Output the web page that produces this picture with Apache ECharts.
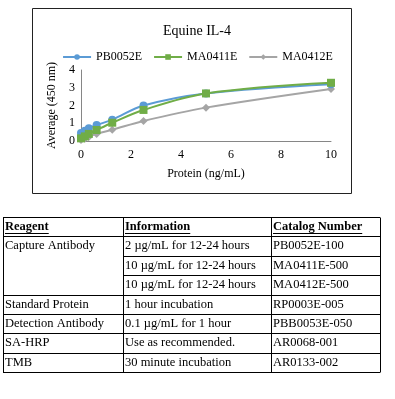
<!DOCTYPE html>
<html><head><meta charset="utf-8">
<script src="https://cdn.jsdelivr.net/npm/echarts@6/dist/echarts.min.js"></script>
<style>html,body{margin:0;padding:0;background:#fff}#c{width:395px;height:399px}</style>
</head><body><div id="c"></div>
<script>
var proteinX = [0, 0.156, 0.3125, 0.625, 1.25, 2.5, 5, 10];
var seriesNames = ['PB0052E', 'MA0411E', 'MA0412E'];
var pb0052e = [0.45, 0.58, 0.72, 0.9, 1.2, 2.0, 2.68, 3.2];
var ma0411e = [0.15, 0.26, 0.4, 0.62, 1.03, 1.75, 2.68, 3.28];
var ma0412e = [0.05, 0.12, 0.23, 0.4, 0.63, 1.13, 1.88, 2.93];
var tableHeader = ['Reagent', 'Information', 'Catalog Number'];
var tableRows = [
  ['Capture Antibody', '2 µg/mL for 12-24 hours', 'PB0052E-100'],
  ['', '10 µg/mL for 12-24 hours', 'MA0411E-500'],
  ['', '10 µg/mL for 12-24 hours', 'MA0412E-500'],
  ['Standard Protein', '1 hour incubation', 'RP0003E-005'],
  ['Detection Antibody', '0.1 µg/mL for 1 hour', 'PBB0053E-050'],
  ['SA-HRP', 'Use as recommended.', 'AR0068-001'],
  ['TMB', '30 minute incubation', 'AR0133-002']
];
var FONT = '"Liberation Serif", "DejaVu Serif", serif';
var colors = ['#5B9BD5', '#70AD47', '#A5A5A5'];
var symbols = ['circle', 'rect', 'diamond'];
var symSizes = [8, 8, 8];
var zs = [2, 3, 1];
var values = [pb0052e, ma0411e, ma0412e];

function pairs(v) { return proteinX.map(function (x, i) { return [x, v[i]]; }); }

var series = seriesNames.map(function (n, k) {
  return {
    name: n, type: 'line', smooth: 0.35, data: pairs(values[k]),
    symbol: symbols[k], symbolSize: symSizes[k],
    lineStyle: { color: colors[k], width: 2 },
    itemStyle: { color: colors[k] },
    z: zs[k]
  };
});

var colX = [3, 123, 271, 380];
var rowTop = 217, rowH = 19.4;
var g = [];
g.push({ type: 'rect', shape: { x: 32.5, y: 8.5, width: 319, height: 185 }, style: { fill: 'none', stroke: '#222', lineWidth: 1 }, silent: true });
function hline(x1, x2, y) { g.push({ type: 'line', shape: { x1: x1, y1: y, x2: x2, y2: y }, style: { stroke: '#000', lineWidth: 1 }, silent: true }); }
function vline(x, y1, y2) { g.push({ type: 'line', shape: { x1: x, y1: y1, x2: x, y2: y2 }, style: { stroke: '#000', lineWidth: 1 }, silent: true }); }
var nRows = tableRows.length + 1;
for (var r = 0; r <= nRows; r++) {
  var y = Math.round(rowTop + r * rowH) + 0.5;
  if (r === 2 || r === 3) hline(colX[1], colX[3], y); else hline(colX[0], colX[3], y);
}
var yBot = Math.round(rowTop + nRows * rowH) + 0.5;
colX.forEach(function (x) { vline(x + 0.5, rowTop + 0.5, yBot); });
var TFS = 12.5;
function cellText(t, c, r, bold) {
  var cy = rowTop + r * rowH + rowH / 2;
  g.push({ type: 'text', x: colX[c] + 2, y: cy, silent: true,
    style: { text: t, font: (bold ? 'bold ' : '') + TFS + 'px ' + FONT, fill: '#000', textVerticalAlign: 'middle', textAlign: 'left' } });
}
tableHeader.forEach(function (t, c) { cellText(t, c, 0, true); });
tableRows.forEach(function (row, r) { row.forEach(function (t, c) { if (t) cellText(t, c, r + 1, false); }); });

var ctx = document.createElement('canvas').getContext('2d');
ctx.font = 'bold ' + TFS + 'px ' + FONT;
tableHeader.forEach(function (t, c) {
  var w = ctx.measureText(t).width;
  var y = Math.round(rowTop + rowH / 2 + 6) + 0.5;
  g.push({ type: 'line', shape: { x1: colX[c] + 2, y1: y, x2: colX[c] + 2 + w, y2: y }, style: { stroke: '#000', lineWidth: 1 }, silent: true });
});

var chart = echarts.init(document.getElementById('c'), null, { renderer: 'canvas' });
chart.setOption({
  animation: false,
  title: { text: 'Equine IL-4', left: 192, textAlign: 'center', top: 19, textStyle: { fontFamily: FONT, fontSize: 14, fontWeight: 'normal', color: '#000' } },
  legend: { top: 46, left: 'center', itemWidth: 28, itemHeight: 7, itemGap: 11,
    textStyle: { fontFamily: FONT, fontSize: 12, color: '#000' }, data: seriesNames },
  grid: { left: 81, right: 64, top: 70, bottom: 258, containLabel: false },
  xAxis: { type: 'value', min: 0, max: 10, interval: 2, name: 'Protein (ng/mL)', nameLocation: 'middle', nameGap: 27,
    nameTextStyle: { fontFamily: FONT, fontSize: 12, color: '#000' },
    axisLine: { lineStyle: { color: '#868686' } }, axisTick: { show: false }, splitLine: { show: false },
    axisLabel: { fontFamily: FONT, fontSize: 12, color: '#000', margin: 8 } },
  yAxis: { type: 'value', min: 0, max: 4, interval: 1, name: 'Average (450 nm)', nameLocation: 'middle', nameGap: 22,
    nameTextStyle: { fontFamily: FONT, fontSize: 12, color: '#000' },
    axisLine: { show: true, lineStyle: { color: '#868686' } }, axisTick: { show: false }, splitLine: { show: false },
    axisLabel: { fontFamily: FONT, fontSize: 12, color: '#000', margin: 6 } },
  series: series,
  graphic: g
});
</script></body></html>
